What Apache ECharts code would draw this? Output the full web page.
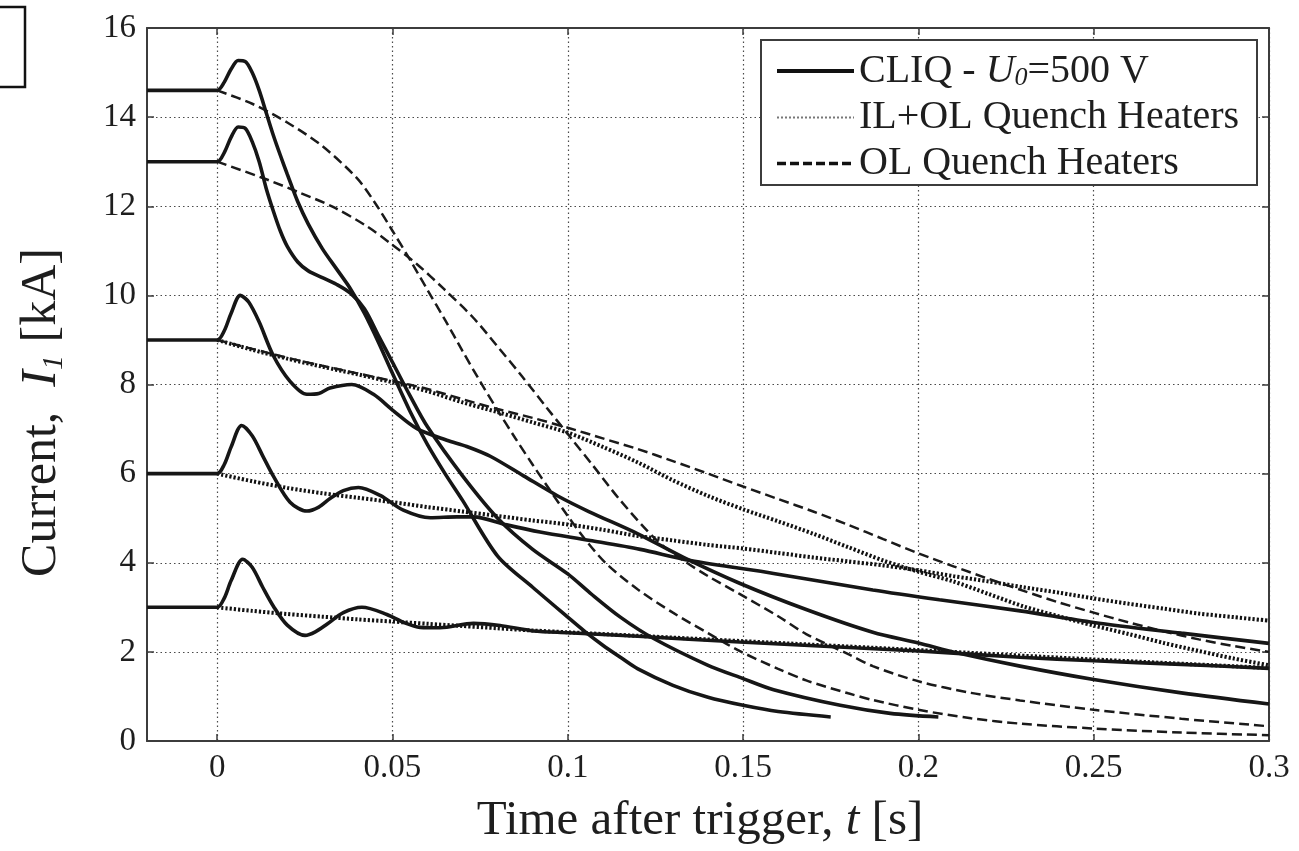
<!DOCTYPE html>
<html>
<head>
<meta charset="utf-8">
<script src="https://cdn.jsdelivr.net/npm/echarts@6/dist/echarts.min.js"></script>
<style>
html,body{margin:0;padding:0;background:#fff;}
#chart{width:1299px;height:851px;}
</style>
</head>
<body>
<div id="chart"></div>
<script>
// ---------- data (time [s], current [kA]) ----------
const xTickValues = [0, 0.05, 0.1, 0.15, 0.2, 0.25, 0.3];
const xTickLabels = ['0', '0.05', '0.1', '0.15', '0.2', '0.25', '0.3'];
const legendNames = ['CLIQ', 'IL+OL', 'OL'];

const cliq146 = [[-0.02,14.6],[0,14.6],[0.002,14.78],[0.004,15.08],[0.006,15.27],[0.008,15.25],[0.010,15.0],[0.012,14.6],[0.014,14.1],[0.016,13.6],[0.018,13.15],[0.020,12.72],[0.023,12.1],[0.026,11.6],[0.030,11.05],[0.034,10.6],[0.038,10.15],[0.042,9.6],[0.046,8.95],[0.050,8.25],[0.055,7.4],[0.060,6.65],[0.065,6.0],[0.070,5.4],[0.080,4.15],[0.090,3.45],[0.100,2.78],[0.105,2.45],[0.110,2.15],[0.115,1.88],[0.120,1.62],[0.130,1.25],[0.140,0.98],[0.150,0.8],[0.160,0.66],[0.175,0.54]];
const cliq13 = [[-0.02,13.0],[0,13.0],[0.002,13.2],[0.004,13.55],[0.006,13.78],[0.008,13.75],[0.010,13.45],[0.012,13.0],[0.014,12.4],[0.016,11.9],[0.018,11.45],[0.020,11.1],[0.023,10.75],[0.026,10.55],[0.030,10.4],[0.034,10.25],[0.038,10.05],[0.042,9.7],[0.046,9.1],[0.050,8.5],[0.055,7.75],[0.060,7.05],[0.070,5.95],[0.080,5.0],[0.090,4.3],[0.100,3.75],[0.1064,3.32],[0.115,2.78],[0.1245,2.3],[0.1397,1.71],[0.150,1.4],[0.1587,1.15],[0.1777,0.8],[0.192,0.62],[0.2057,0.54]];
const cliq9 = [[-0.02,9.0],[0,9.0],[0.002,9.2],[0.004,9.6],[0.0066,10.0],[0.009,9.85],[0.012,9.4],[0.016,8.65],[0.0208,8.07],[0.0256,7.78],[0.029,7.8],[0.0322,7.92],[0.0384,8.0],[0.0446,7.78],[0.0503,7.41],[0.057,7.01],[0.0655,6.75],[0.0712,6.61],[0.0779,6.39],[0.0874,5.95],[0.0969,5.51],[0.106,5.15],[0.120,4.65],[0.133,4.12],[0.149,3.54],[0.168,2.95],[0.187,2.44],[0.200,2.2],[0.211,1.98],[0.229,1.68],[0.250,1.38],[0.275,1.08],[0.300,0.83]];
const cliq6 = [[-0.02,6.0],[0,6.0],[0.002,6.2],[0.004,6.6],[0.007,7.08],[0.010,6.85],[0.013,6.4],[0.016,5.95],[0.0208,5.36],[0.0256,5.16],[0.029,5.25],[0.0322,5.44],[0.036,5.62],[0.0403,5.69],[0.0465,5.51],[0.0531,5.18],[0.0608,5.01],[0.0684,5.03],[0.0731,5.03],[0.0826,4.85],[0.0921,4.69],[0.1064,4.5],[0.1207,4.3],[0.135,4.05],[0.1587,3.76],[0.187,3.39],[0.206,3.17],[0.229,2.92],[0.250,2.66],[0.275,2.42],[0.300,2.19]];
const cliq3 = [[-0.02,3.0],[0,3.0],[0.002,3.2],[0.004,3.6],[0.0073,4.08],[0.010,3.9],[0.013,3.45],[0.016,3.03],[0.020,2.6],[0.0251,2.37],[0.028,2.45],[0.0313,2.62],[0.036,2.88],[0.0413,3.0],[0.0484,2.84],[0.0535,2.65],[0.0579,2.55],[0.0636,2.54],[0.0731,2.64],[0.0807,2.59],[0.0902,2.47],[0.100,2.43],[0.120,2.35],[0.149,2.22],[0.200,2.02],[0.229,1.88],[0.250,1.8],[0.275,1.72],[0.300,1.63]];

const ilol9 = [[0,9.0],[0.01,8.78],[0.02,8.58],[0.03,8.4],[0.04,8.23],[0.05,8.05],[0.06,7.85],[0.07,7.6],[0.08,7.38],[0.09,7.15],[0.10,6.92],[0.11,6.6],[0.12,6.25],[0.13,5.85],[0.14,5.5],[0.15,5.2],[0.16,4.93],[0.17,4.65],[0.18,4.35],[0.19,4.05],[0.20,3.8],[0.21,3.58],[0.22,3.3],[0.23,3.02],[0.24,2.8],[0.25,2.59],[0.26,2.4],[0.27,2.2],[0.28,2.02],[0.29,1.85],[0.30,1.7]];
const ilol6 = [[0,6.0],[0.01,5.83],[0.02,5.68],[0.03,5.56],[0.04,5.46],[0.05,5.36],[0.06,5.25],[0.07,5.15],[0.08,5.05],[0.09,4.95],[0.10,4.86],[0.11,4.74],[0.12,4.6],[0.13,4.5],[0.14,4.4],[0.15,4.32],[0.16,4.22],[0.17,4.12],[0.18,4.03],[0.19,3.94],[0.20,3.83],[0.21,3.7],[0.22,3.58],[0.23,3.45],[0.24,3.33],[0.25,3.2],[0.26,3.08],[0.27,2.97],[0.28,2.86],[0.29,2.78],[0.30,2.7]];
const ilol3 = [[0,3.0],[0.01,2.92],[0.02,2.85],[0.03,2.79],[0.04,2.73],[0.05,2.68],[0.06,2.63],[0.07,2.58],[0.08,2.53],[0.09,2.48],[0.10,2.44],[0.12,2.36],[0.15,2.24],[0.20,2.04],[0.25,1.83],[0.30,1.64]];

const ol146 = [[0,14.6],[0.01,14.3],[0.02,13.88],[0.03,13.35],[0.04,12.62],[0.045,12.08],[0.05,11.45],[0.055,10.8],[0.06,10.12],[0.065,9.45],[0.07,8.75],[0.075,8.07],[0.08,7.42],[0.085,6.8],[0.09,6.2],[0.095,5.62],[0.10,5.05],[0.105,4.52],[0.111,3.98],[0.12,3.4],[0.13,2.88],[0.14,2.42],[0.149,2.02],[0.16,1.62],[0.168,1.36],[0.18,1.07],[0.187,0.92],[0.20,0.7],[0.215,0.51],[0.229,0.39],[0.25,0.28],[0.275,0.19],[0.30,0.13]];
const ol13 = [[0,13.0],[0.0142,12.6],[0.0237,12.3],[0.0332,11.98],[0.0427,11.55],[0.0494,11.17],[0.057,10.7],[0.0646,10.15],[0.0728,9.52],[0.0798,8.87],[0.087,8.18],[0.094,7.48],[0.1007,6.82],[0.1073,6.17],[0.115,5.4],[0.1254,4.5],[0.133,4.05],[0.14,3.7],[0.149,3.3],[0.16,2.8],[0.168,2.4],[0.18,1.95],[0.187,1.68],[0.20,1.34],[0.215,1.08],[0.229,0.91],[0.25,0.7],[0.275,0.5],[0.30,0.33]];
const ol9 = [[0,9.0],[0.01,8.8],[0.02,8.6],[0.03,8.42],[0.04,8.25],[0.05,8.08],[0.06,7.9],[0.07,7.67],[0.08,7.45],[0.09,7.25],[0.10,7.03],[0.11,6.79],[0.12,6.55],[0.13,6.28],[0.14,6.0],[0.15,5.71],[0.16,5.43],[0.17,5.15],[0.18,4.85],[0.19,4.53],[0.20,4.21],[0.21,3.92],[0.22,3.64],[0.23,3.37],[0.24,3.11],[0.25,2.88],[0.26,2.66],[0.27,2.46],[0.28,2.28],[0.29,2.13],[0.30,2.0]];

// ---------- styles ----------
const FONT = '"Liberation Serif", "DejaVu Serif", serif';
const TXT = '#1e1e1e';
const FRAME = '#3c3c3c';
const solidStyle = {color: '#161616', width: 3.6, type: 'solid'};
const dottedStyle = {color: '#111111', width: 4, type: [2.2, 2]};
const dashedStyle = {color: '#1a1a1a', width: 2.5, type: [10, 5]};

function line(name, data, style, z) {
  return {
    type: 'line', name: name, data: data, showSymbol: false, symbol: 'none',
    smooth: 0.3, lineStyle: style, itemStyle: {color: style.color},
    z: z, silent: true, animation: false
  };
}

const series = [
  line('IL+OL', ilol9, dottedStyle, 2),
  line('IL+OL', ilol6, dottedStyle, 2),
  line('IL+OL', ilol3, dottedStyle, 2),
  line('OL', ol146, dashedStyle, 3),
  line('OL', ol13, dashedStyle, 3),
  line('OL', ol9, dashedStyle, 3),
  line('CLIQ', cliq146, solidStyle, 4),
  line('CLIQ', cliq13, solidStyle, 4),
  line('CLIQ', cliq9, solidStyle, 4),
  line('CLIQ', cliq6, solidStyle, 4),
  line('CLIQ', cliq3, solidStyle, 4)
];
const legendLabel = {
  'CLIQ': '{n|CLIQ - }{i|U}{s|0}{n|=500 V}',
  'IL+OL': '{n|IL+OL Quench Heaters}',
  'OL': '{n|OL Quench Heaters}'
};
const legendLine = {
  'CLIQ': {color: '#111', width: 4, type: 'solid', opacity: 1},
  'IL+OL': {color: '#777', width: 2.2, type: [2, 2], opacity: 1},
  'OL': {color: '#111', width: 3.5, type: [9, 4], opacity: 1}
};

const gridLine = {show: true, lineStyle: {color: '#4a4a4a', width: 1.2, type: [1.5, 3]}};
const frameLine = {show: true, onZero: false, lineStyle: {color: FRAME, width: 2}};
const tickIn = {show: true, inside: true, length: 7, lineStyle: {color: FRAME, width: 1.5}};

const chart = echarts.init(document.getElementById('chart'), null, {renderer: 'canvas'});
chart.setOption({
  backgroundColor: '#ffffff',
  animation: false,
  grid: {left: 147, right: 30, top: 28, bottom: 93, containLabel: false},
  xAxis: [{
    type: 'value', min: -0.02, max: 0.3, position: 'bottom',
    axisLine: frameLine,
    axisTick: Object.assign({customValues: xTickValues}, tickIn),
    axisLabel: {customValues: xTickValues, margin: 11, color: TXT, fontFamily: FONT, fontSize: 33,
      formatter: function (v) { const k = xTickValues.indexOf(v); return k >= 0 ? xTickLabels[k] : String(v); }},
    splitLine: gridLine,
    name: '{n|Time after trigger, }{i|t}{n| [s]}', nameLocation: 'middle', nameGap: 56,
    nameTextStyle: {color: TXT, fontFamily: FONT, fontSize: 49, padding: [0, 16, 0, 0],
      rich: {n: {fontFamily: FONT, fontSize: 49, color: TXT}, i: {fontFamily: FONT, fontSize: 49, color: TXT, fontStyle: 'italic'}}}
  }, {
    type: 'value', min: -0.02, max: 0.3, position: 'top',
    axisLine: frameLine,
    axisTick: Object.assign({customValues: xTickValues}, tickIn),
    axisLabel: {show: false}, splitLine: {show: false}
  }],
  yAxis: [{
    type: 'value', min: 0, max: 16, interval: 2, position: 'left',
    axisLine: frameLine, axisTick: tickIn,
    axisLabel: {margin: 11, color: TXT, fontFamily: FONT, fontSize: 33},
    splitLine: gridLine,
    name: '{n|Current,  }{i|I}{s|1}{n| [kA]}', nameLocation: 'middle', nameGap: 78, nameRotate: 90,
    nameTextStyle: {color: TXT, fontFamily: FONT, fontSize: 50, padding: [0, 56, 0, 0],
      rich: {n: {fontFamily: FONT, fontSize: 50, color: TXT, lineHeight: 54},
             i: {fontFamily: FONT, fontSize: 50, color: TXT, fontStyle: 'italic', lineHeight: 54},
             s: {fontFamily: FONT, fontSize: 30, color: TXT, fontStyle: 'italic', verticalAlign: 'bottom', lineHeight: 44}}}
  }, {
    type: 'value', min: 0, max: 16, interval: 2, position: 'right',
    axisLine: frameLine, axisTick: tickIn,
    axisLabel: {show: false}, splitLine: {show: false}
  }],
  legend: {
    data: legendNames.map(function (n) { return {name: n, lineStyle: legendLine[n], itemStyle: {opacity: 0}}; }),
    orient: 'vertical', left: 775, top: 51,
    itemWidth: 77, itemHeight: 14, itemGap: 6, padding: 0,
    selectedMode: false,
    itemStyle: {opacity: 0},
    formatter: function (name) { return legendLabel[name]; },
    textStyle: {color: TXT, fontFamily: FONT, fontSize: 40,
      rich: {n: {fontFamily: FONT, fontSize: 40, color: TXT, lineHeight: 41},
             i: {fontFamily: FONT, fontSize: 40, color: TXT, fontStyle: 'italic', lineHeight: 41},
             s: {fontFamily: FONT, fontSize: 26, color: TXT, fontStyle: 'italic', verticalAlign: 'bottom', lineHeight: 32}}},
    z: 10
  },
  graphic: [
    {type: 'rect', z: 8, shape: {x: 761, y: 40, width: 496, height: 145},
     style: {fill: '#ffffff', stroke: FRAME, lineWidth: 2}},
    {type: 'rect', z: 8, shape: {x: -6, y: 7, width: 31, height: 80},
     style: {fill: 'none', stroke: '#111', lineWidth: 2.5}}
  ],
  series: series
});
</script>
</body>
</html>
